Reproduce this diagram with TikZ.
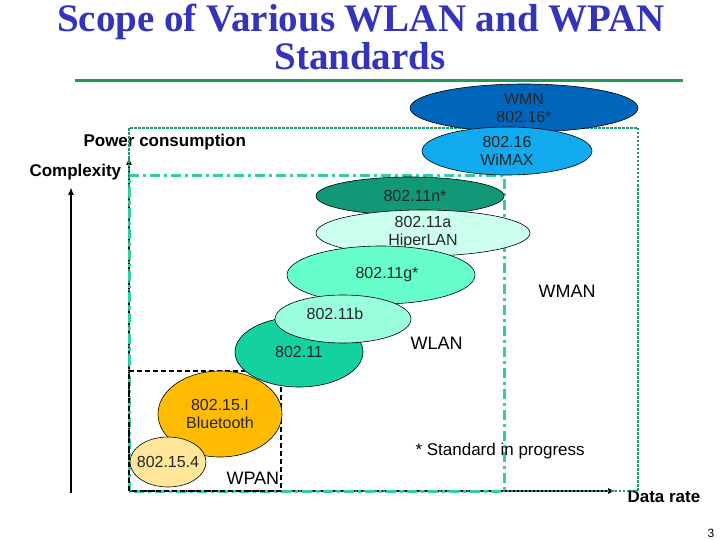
\documentclass[tikz,border=0pt]{standalone}
\usepackage{fontspec}
\setmainfont{Liberation Sans}
\newfontfamily\titlefont{Liberation Serif}
\usetikzlibrary{shapes.geometric,arrows.meta}

\definecolor{titleblue}{RGB}{51,51,187}
\definecolor{rulegreen}{RGB}{34,153,85}
\definecolor{wmangreen}{RGB}{34,153,102}
\definecolor{wlanteal}{RGB}{51,204,170}
\definecolor{wmnblue}{RGB}{0,102,187}
\definecolor{wimaxblue}{RGB}{17,170,238}
\definecolor{ngreen}{RGB}{17,153,119}
\definecolor{amint}{RGB}{204,255,238}
\definecolor{gaqua}{RGB}{102,255,204}
\definecolor{baqua}{RGB}{153,255,221}
\definecolor{plainteal}{RGB}{20,210,160}
\definecolor{btorange}{RGB}{255,187,0}
\definecolor{zbyellow}{RGB}{255,230,153}

\begin{document}
\begin{tikzpicture}[x=1pt, y=-1pt,
  std/.style={ellipse, draw=black, line width=0.6pt, inner sep=0pt, align=center, font=\fontsize{16}{18}\selectfont, text=black!85},
  axis/.style={-{Latex[length=8pt,width=6pt]}, line width=1.6pt},
  lbl/.style={anchor=base west, font=\fontsize{18}{20}\selectfont},
  axlbl/.style={anchor=base west, font=\bfseries\fontsize{17}{20}\selectfont},
  title/.style={anchor=base, inner sep=0pt, text=titleblue, font=\titlefont\bfseries\fontsize{39}{33}\selectfont},
  wman/.style={draw=wmangreen, line width=2.5pt, dash pattern=on 2.5pt off 1.5pt},
  wlan/.style={draw=wlanteal, line width=3pt, dash pattern=on 10pt off 4pt on 3pt off 4pt},
  wpan/.style={draw=black, line width=2pt, dash pattern=on 5pt off 3pt},
]
\fill[white] (0,0) rectangle (720,540);
\useasboundingbox (0,0) rectangle (720,540);

% === TITLE ===
\node[title] (title1) at (361,32) {Scope of Various WLAN and WPAN};
\node[title] (title2) at (360,70) {Standards};
\draw[rulegreen, line width=3pt] (75,81) -- (683,81);

% === AXES ===
\coordinate (o) at (129,491);
\coordinate (ptop) at (129,157);
\coordinate (c0) at (71,493);
\coordinate (ctop) at (71,187);
\coordinate (dend) at (616,491);
\draw[axis] (c0) -- (ctop);
\draw[axis] (o) -- (ptop);
\draw[axis] (o) -- (dend);
\node[axlbl] (power) at (80,147) {Power consumption};
\node[axlbl] (cplx) at (26,177) {Complexity};
\node[axlbl] (rate) at (624,502) {Data rate};

% === SCOPE BOXES ===
\draw[wman] (o) rectangle (638,128);
\draw[wlan] (o) rectangle (504,176);
\draw[wpan] (o) rectangle (281,371);

% === STANDARDS ===
\node[std, fill=ngreen, minimum width=188pt, minimum height=38pt] (dotn) at (410,196) {\hspace*{10pt}802.11n*};
\node[std, fill=amint, minimum width=214pt, minimum height=46pt, inner ysep=-3pt] (dota) at (423,233) {802.11a\\HiperLAN};
\node[std, fill=gaqua, minimum width=188pt, minimum height=58pt] (dotg) at (381,275) {\hspace*{12pt}802.11g*};
\node[std, fill=plainteal, minimum width=128pt, minimum height=70pt] (dotplain) at (299,352) {802.11};
\node[std, fill=baqua, minimum width=136pt, minimum height=48pt] (dotb) at (343,319) {802.11b\hspace*{16pt}\\[-8pt]};
\node[std, fill=wmnblue, minimum width=228pt, minimum height=48pt, inner ysep=-3pt] (wmn) at (524,108) {WMN\\802.16*};
\node[std, fill=wimaxblue, minimum width=170pt, minimum height=48pt, inner ysep=-3pt] (wimax) at (507,151) {802.16\\WiMAX};
\node[std, fill=btorange, minimum width=124pt, minimum height=86pt] (bt) at (220,414) {802.15.I\\Bluetooth};
\node[std, fill=zbyellow, minimum width=76pt, minimum height=50pt, inner xsep=-7pt] (zb) at (168,462) {802.15.4};

% === LABELS ===
\node[lbl] (wmanlbl) at (535,297) {WMAN};
\node[lbl] (wlanlbl) at (407,349) {WLAN};
\node[lbl] (wpanlbl) at (223,484) {WPAN};
\node[anchor=base west, font=\fontsize{17}{20}\selectfont] (note) at (412,455) {* Standard in progress};
\node[anchor=base west, font=\fontsize{12}{14}\selectfont] (pagenum) at (704,537) {3};
\end{tikzpicture}
\end{document}
